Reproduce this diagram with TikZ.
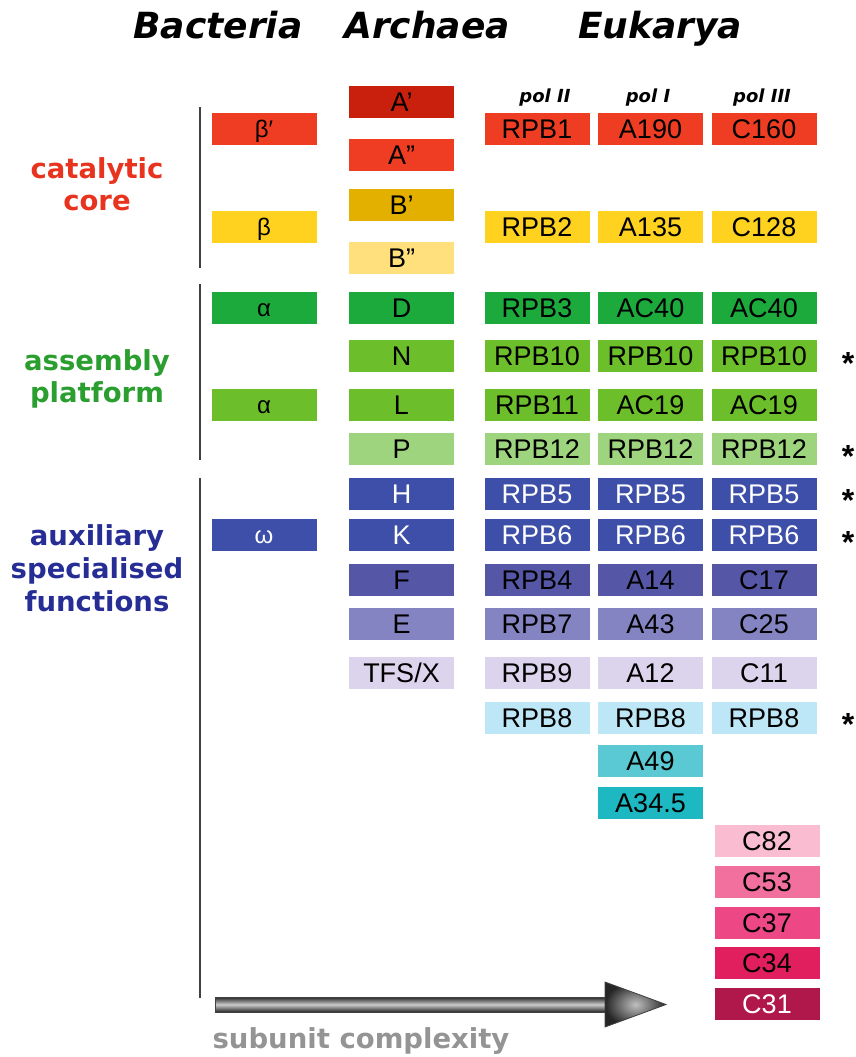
\documentclass[tikz,border=0pt]{standalone}
\usepackage{fontspec}
\setmainfont{Liberation Sans}
\newfontfamily\dejavu{DejaVu Sans}

\definecolor{redA}{HTML}{C8200C}
\definecolor{redB}{HTML}{EE3D22}
\definecolor{yelA}{HTML}{E3B000}
\definecolor{yelB}{HTML}{FFD21F}
\definecolor{yelC}{HTML}{FFE07C}
\definecolor{grnA}{HTML}{1DAA3C}
\definecolor{grnB}{HTML}{6CBF2A}
\definecolor{grnC}{HTML}{9ED47E}
\definecolor{bluA}{HTML}{3D4FA8}
\definecolor{bluB}{HTML}{5557A6}
\definecolor{bluC}{HTML}{8584C2}
\definecolor{lavA}{HTML}{DCD4EC}
\definecolor{cyaA}{HTML}{BDE7F6}
\definecolor{cyaB}{HTML}{5BC9D3}
\definecolor{cyaC}{HTML}{1DB8C2}
\definecolor{pnkA}{HTML}{F9BCD0}
\definecolor{pnkB}{HTML}{F2709E}
\definecolor{pnkC}{HTML}{EE4786}
\definecolor{pnkD}{HTML}{E11E5E}
\definecolor{pnkE}{HTML}{B0174A}
\definecolor{catred}{HTML}{E8331F}
\definecolor{asmgrn}{HTML}{2A9E2E}
\definecolor{auxblu}{HTML}{262E96}

\newcommand{\boxfont}{\fontsize{27}{30}\selectfont}
\newcommand{\greekfont}{\fontsize{24}{28}\selectfont}

\begin{document}
\begin{tikzpicture}[x=1pt, y=-1pt, every node/.style={inner sep=0pt}]
	\tikzset{box/.style={fill=#1, minimum width=105pt, minimum height=32pt, text height=19.5pt, text depth=0pt, font=\boxfont}}
	\tikzset{grk/.style={box=#1, text height=17pt, font=\greekfont}}
	\tikzset{head/.style={anchor=base, font=\dejavu\bfseries\itshape\fontsize{36}{40}\selectfont}}
	\tikzset{pol/.style={anchor=base, font=\dejavu\bfseries\itshape\fontsize{18}{20}\selectfont}}
	\tikzset{side/.style={anchor=base, text=#1, font=\dejavu\bfseries\fontsize{27.5}{30}\selectfont}}
	\tikzset{star/.style={anchor=base, font=\bfseries\fontsize{32}{36}\selectfont}}
	\tikzset{bracket/.style={draw=black!75, line width=1.2pt}}
	\useasboundingbox (0,0) rectangle (855,1057);

	% kingdoms
	\node[head] (bact) at (218,38) {Bacteria};
	\node[head] (arch) at (427,38) {Archaea};
	\node[head] (euk)  at (660,38) {Eukarya};
	\node[pol] (pol2) at (545,102) {pol II};
	\node[pol] (pol1) at (648,102) {pol I};
	\node[pol] (pol3) at (762,102) {pol III};

	% functional groups
	\node[side=catred] (cat1) at (97,178) {catalytic};
	\node[side=catred] (cat2) at (97,210) {core};
	\node[side=asmgrn] (asm1) at (97,370) {assembly};
	\node[side=asmgrn] (asm2) at (97,402) {platform};
	\node[side=auxblu] (aux1) at (97,545) {auxiliary};
	\node[side=auxblu] (aux2) at (97,578) {specialised};
	\node[side=auxblu] (aux3) at (97,611) {functions};
	\draw[bracket] (200,107) -- (200,268);
	\draw[bracket] (200,284) -- (200,460);
	\draw[bracket] (200,478) -- (200,998);

	% bacteria
	\node[grk=redB] (bbp) at (264,129) {β′};
	\node[grk=yelB] (bb)  at (264,227) {β};
	\node[grk=grnA] (ba1) at (264,307.5) {α};
	\node[grk=grnB] (ba2) at (264,404.5) {α};
	\node[grk=bluA, text=white] (bw) at (264,535) {ω};

	% archaea
	\node[box=redA] (aA1) at (401.5,102) {A’};
	\node[box=redB] (aA2) at (401.5,154.5) {A”};
	\node[box=yelA] (aB1) at (401.5,204.5) {B’};
	\node[box=yelC] (aB2) at (401.5,258) {B”};
	\node[box=grnA] (aD) at (401.5,307.5) {D};
	\node[box=grnB] (aN) at (401.5,356) {N};
	\node[box=grnB] (aL) at (401.5,404.5) {L};
	\node[box=grnC] (aP) at (401.5,449) {P};
	\node[box=bluA, text=white] (aH) at (401.5,493.5) {H};
	\node[box=bluA, text=white] (aK) at (401.5,535) {K};
	\node[box=bluB] (aF) at (401.5,580) {F};
	\node[box=bluC] (aE) at (401.5,624) {E};
	\node[box=lavA] (aX) at (401.5,673) {TFS/X};

	% eukarya pol II
	\node[box=redB] (rpb1) at (537,129) {RPB1};
	\node[box=yelB] (rpb2) at (537,227) {RPB2};
	\node[box=grnA] (rpb3) at (537,307.5) {RPB3};
	\node[box=grnB] (rpb10) at (537,356) {RPB10};
	\node[box=grnB] (rpb11) at (537,404.5) {RPB11};
	\node[box=grnC] (rpb12) at (537,449) {RPB12};
	\node[box=bluA, text=white] (rpb5) at (537,493.5) {RPB5};
	\node[box=bluA, text=white] (rpb6) at (537,535) {RPB6};
	\node[box=bluB] (rpb4) at (537,580) {RPB4};
	\node[box=bluC] (rpb7) at (537,624) {RPB7};
	\node[box=lavA] (rpb9) at (537,673) {RPB9};
	\node[box=cyaA] (rpb8) at (537,717.5) {RPB8};

	% eukarya pol I
	\node[box=redB] (a190) at (650.5,129) {A190};
	\node[box=yelB] (a135) at (650.5,227) {A135};
	\node[box=grnA] (ac40a) at (650.5,307.5) {AC40};
	\node[box=grnB] (a10) at (650.5,356) {RPB10};
	\node[box=grnB] (ac19a) at (650.5,404.5) {AC19};
	\node[box=grnC] (a12b) at (650.5,449) {RPB12};
	\node[box=bluA, text=white] (a5) at (650.5,493.5) {RPB5};
	\node[box=bluA, text=white] (a6) at (650.5,535) {RPB6};
	\node[box=bluB] (a14) at (650.5,580) {A14};
	\node[box=bluC] (a43) at (650.5,624) {A43};
	\node[box=lavA] (a12) at (650.5,673) {A12};
	\node[box=cyaA] (a8) at (650.5,717.5) {RPB8};
	\node[box=cyaB] (a49) at (650.5,761) {A49};
	\node[box=cyaC] (a345) at (650.5,803) {A34.5};

	% eukarya pol III
	\node[box=redB] (c160) at (764,129) {C160};
	\node[box=yelB] (c128) at (764,227) {C128};
	\node[box=grnA] (ac40b) at (764,307.5) {AC40};
	\node[box=grnB] (c10) at (764,356) {RPB10};
	\node[box=grnB] (ac19b) at (764,404.5) {AC19};
	\node[box=grnC] (c12b) at (764,449) {RPB12};
	\node[box=bluA, text=white] (c5) at (764,493.5) {RPB5};
	\node[box=bluA, text=white] (c6) at (764,535) {RPB6};
	\node[box=bluB] (c17) at (764,580) {C17};
	\node[box=bluC] (c25) at (764,624) {C25};
	\node[box=lavA] (c11) at (764,673) {C11};
	\node[box=cyaA] (c8) at (764,717.5) {RPB8};
	\node[box=pnkA] (c82) at (767,841) {C82};
	\node[box=pnkB] (c53) at (767,882) {C53};
	\node[box=pnkC] (c37) at (767,923) {C37};
	\node[box=pnkD] (c34) at (767,963) {C34};
	\node[box=pnkE, text=white] (c31) at (767,1003.5) {C31};

	% shared subunits
	\node[star] (s10) at (848,374) {*};
	\node[star] (s12) at (848,467) {*};
	\node[star] (s5)  at (848,511.5) {*};
	\node[star] (s6)  at (848,553) {*};
	\node[star] (s8)  at (848,735.5) {*};

	% complexity arrow
	\coordinate (tail) at (215,1004.5);
	\coordinate (tip) at (666,1004.5);
	\shadedraw[draw=black!75, line width=0.8pt, top color=black!85, bottom color=black!85, middle color=black!20] (tail |- 0,997) rectangle (606,1012);
	\shadedraw[draw=black!75, line width=0.8pt, shading=radial, inner color=black!25, outer color=black!85] (605,982) -- (tip) -- (605,1027) -- cycle;
	\node[anchor=base, text=black!42, font=\dejavu\bfseries\fontsize{27.5}{30}\selectfont] (cmplx) at (361,1048) {subunit complexity};
\end{tikzpicture}
\end{document}
